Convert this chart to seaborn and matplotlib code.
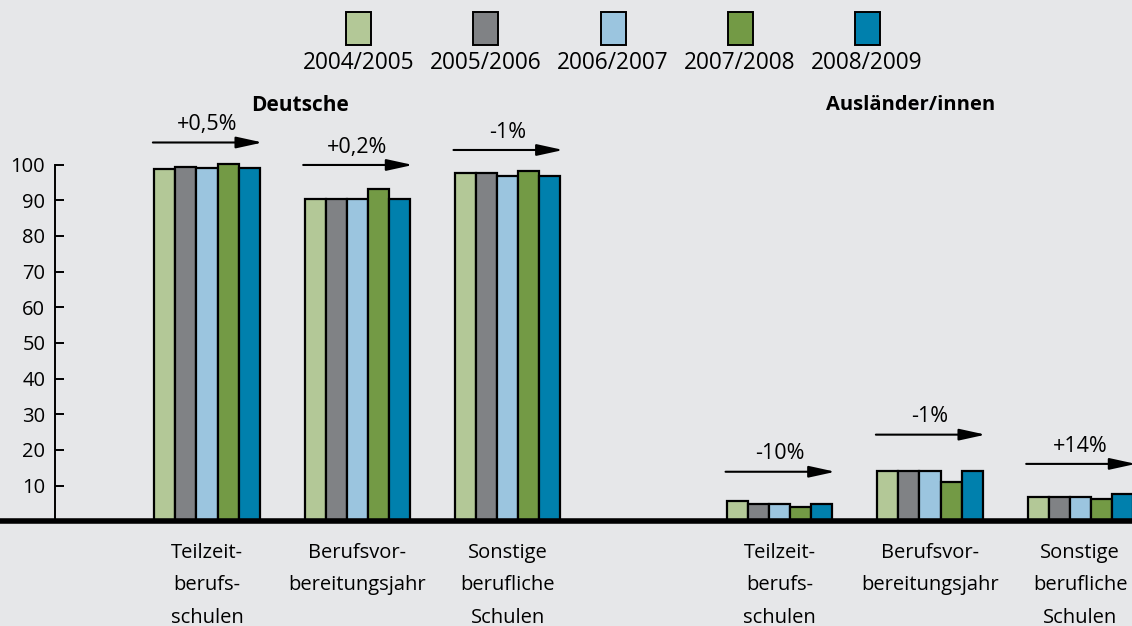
import pandas as pd
import numpy as np
import matplotlib
matplotlib.use('Agg')
import matplotlib.pyplot as plt
from matplotlib.patches import Rectangle
import seaborn as sns

years = ['2004/2005', '2005/2006', '2006/2007', '2007/2008', '2008/2009']
colors = ['#b3c897', '#808285', '#9bc5df', '#739a45', '#0080ad']

groups = ['Teilzeit-\nberufs-\nschulen', 'Berufsvor-\nbereitungsjahr', 'Sonstige\nberufliche\nSchulen',
          'Teilzeit-\nberufs-\nschulen', 'Berufsvor-\nbereitungsjahr', 'Sonstige\nberufliche\nSchulen']
group_pos = [0, 1, 2, 3.81, 4.81, 5.81]

de_teilzeit = [98.7, 99.3, 99.1, 100.2, 99.0]
de_bvj = [90.5, 90.5, 90.5, 93.2, 90.5]
de_sonstige = [97.6, 97.6, 96.9, 98.2, 96.9]
au_teilzeit = [5.7, 4.85, 4.85, 4.1, 4.85]
au_bvj = [14.1, 14.1, 14.1, 10.9, 14.1]
au_sonstige = [6.9, 6.9, 6.9, 6.3, 7.6]

changes = ['+0,5%', '+0,2%', '-1%', '-10%', '-1%', '+14%']
arrow_y = [106.2, 99.9, 104.1, 13.9, 24.3, 16.1]

series = [de_teilzeit, de_bvj, de_sonstige, au_teilzeit, au_bvj, au_sonstige]
rows = []
for pos, vals in zip(group_pos, series):
    for yr, v in zip(years, vals):
        rows.append({'pos': pos, 'year': yr, 'value': v})
df = pd.DataFrame(rows)

bg = '#e6e7e9'
plt.rcParams['font.family'] = ['Open Sans', 'DejaVu Sans']
fs = 14.5

fig = plt.figure(figsize=(11.32, 6.26), dpi=100, facecolor=bg)
ax = fig.add_axes([0, 0.1672, 1, 0.7123])
ax.set_facecolor(bg)

sns.barplot(data=df, x='pos', y='value', hue='year', hue_order=years, palette=colors,
            saturation=1, native_scale=True, width=0.7, errorbar=None,
            edgecolor='black', linewidth=1.6, legend=False, ax=ax)

ax.set_xlim(-1.377, 6.154)
ax.set_ylim(0, 125)
ax.axhline(0, color='black', lw=4, zorder=5, clip_on=False)

for s in ['top', 'right', 'bottom']:
    ax.spines[s].set_visible(False)
ax.spines['left'].set_position(('data', -1.011))
ax.spines['left'].set_bounds(0, 100)
ax.spines['left'].set_linewidth(1.4)
ax.set_yticks(range(10, 101, 10))
ax.tick_params(axis='y', direction='in', length=6.5, width=1.4, pad=7, labelsize=fs)
ax.set_xticks(group_pos)
ax.set_xticklabels(groups, fontsize=fs, linespacing=1.83)
ax.tick_params(axis='x', length=0, pad=15.5)
ax.set_xlabel('')
ax.set_ylabel('')

for pos, txt, ay in zip(group_pos, changes, arrow_y):
    ax.annotate('', xy=(pos + 0.37, ay), xytext=(pos - 0.36, ay),
                arrowprops=dict(arrowstyle='-|>,head_length=1.6,head_width=0.35',
                                mutation_scale=10, color='black', lw=1.5, shrinkA=0, shrinkB=0),
                annotation_clip=False)
    ax.text(pos, ay + 5, txt, ha='center', va='center', fontsize=15.5)

ax.text(0.62, 116.7, 'Deutsche', ha='center', va='center', fontsize=15, fontweight='bold')
ax.text(4.68, 116.7, 'Ausländer/innen', ha='center', va='center', fontsize=fs, fontweight='bold')

# legend drawn by hand: swatch above, label below
for i, (yr, c) in enumerate(zip(years, colors)):
    cx = (359 + i * 127) / 1132
    fig.add_artist(Rectangle((cx - 12.5 / 1132, 1 - 45 / 626), 25 / 1132, 33 / 626,
                             transform=fig.transFigure, facecolor=c, edgecolor='black', lw=1.4))
    fig.text(cx, 1 - 63 / 626, yr, ha='center', va='center', fontsize=16.3)

fig.savefig('out.png', dpi=100, facecolor=bg)
